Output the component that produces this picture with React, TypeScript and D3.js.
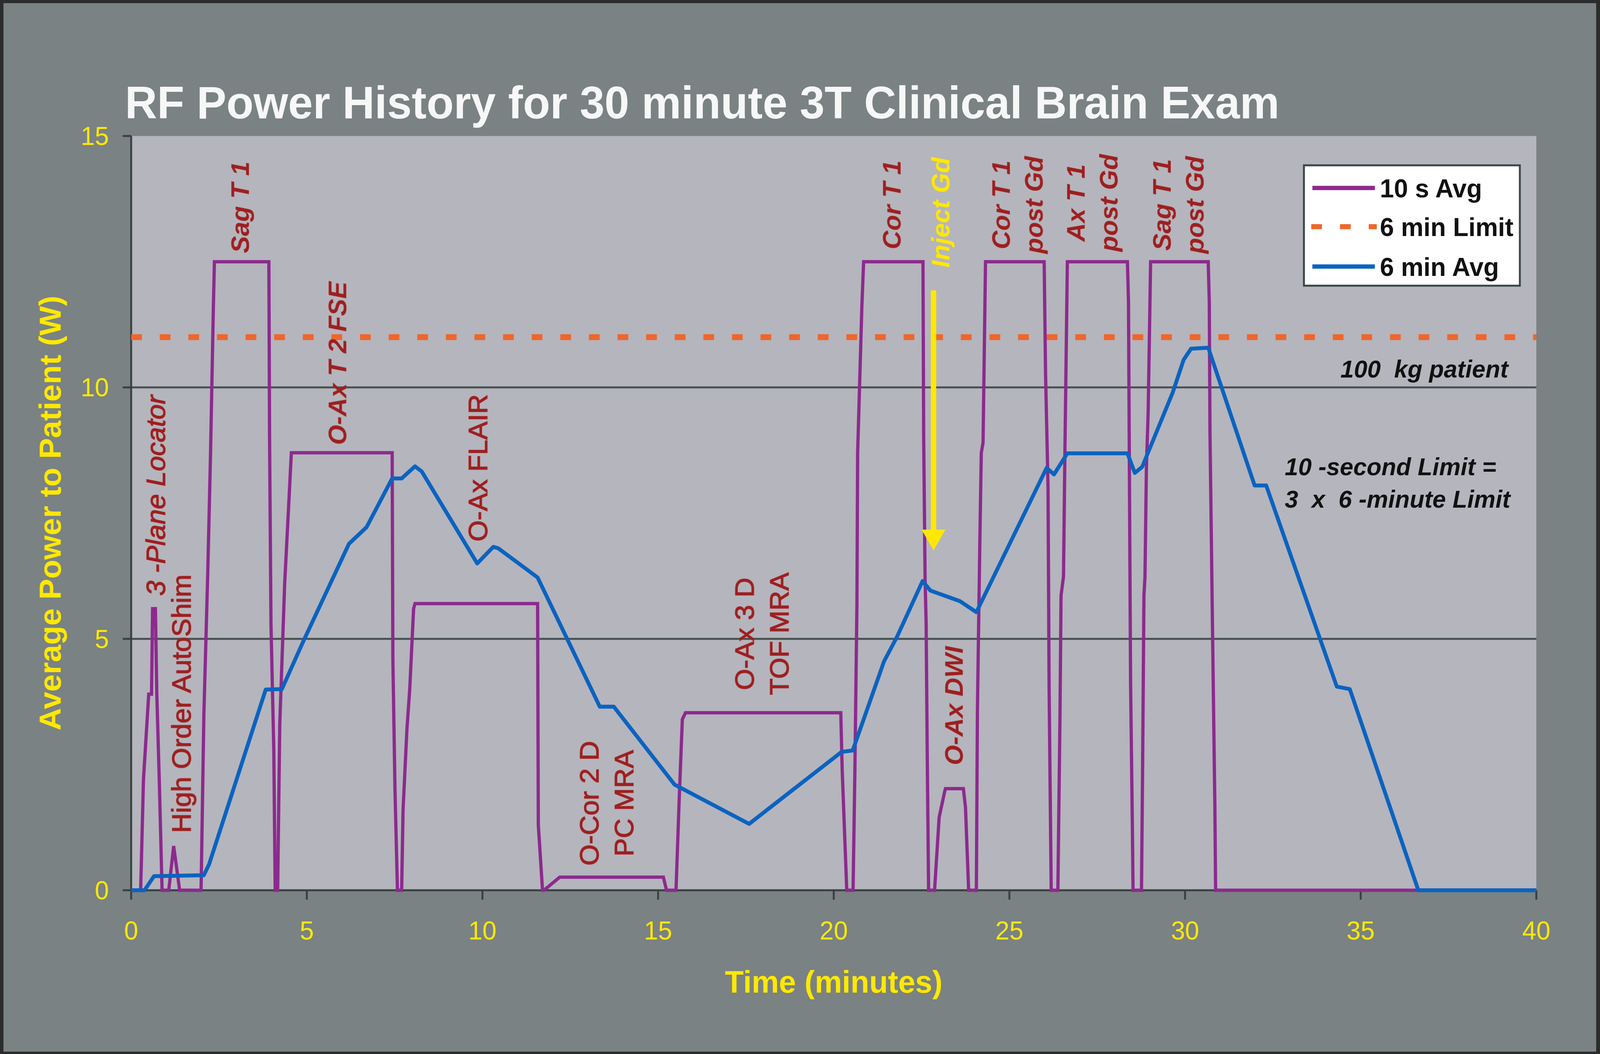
import React, { useEffect } from 'react';
import * as d3 from 'd3';

const title = 'RF Power History for 30 minute 3T Clinical Brain Exam';
const xLabel = 'Time (minutes)';
const yLabel = 'Average Power to Patient (W)';
const xTicks = [0, 5, 10, 15, 20, 25, 30, 35, 40];
const yTicks = [0, 5, 10, 15];
const gridValues = [5, 10];
const sixMinLimit = 11;
const seriesNames = ['10 s Avg', '6 min Limit', '6 min Avg'];

// 10 s average RF power (time in minutes, power in W)
const tenSecAvg: [number, number][] = [
  [0, 0], [0.27, 0], [0.35, 2.2], [0.5, 3.9], [0.58, 3.9], [0.61, 5.6], [0.69, 5.6], [0.73, 3.9], [0.8, 2.2], [0.88, 0],
  [1.07, 0], [1.21, 0.88], [1.38, 0],
  [1.99, 0], [2.07, 3.5], [2.18, 6.3], [2.26, 8.7], [2.34, 11.6], [2.37, 12.5],
  [3.92, 12.5], [3.94, 9.0], [3.98, 5.3], [4.06, 2.8], [4.1, 0],
  [4.17, 0], [4.23, 3.3], [4.37, 6.1], [4.48, 7.6], [4.56, 8.7],
  [7.43, 8.7], [7.45, 4.6], [7.51, 2.0], [7.58, 0],
  [7.7, 0], [7.74, 1.6], [7.85, 3.2], [7.93, 4.0], [8.04, 5.6], [8.08, 5.7],
  [11.57, 5.7], [11.59, 1.3], [11.71, 0], [11.75, 0], [12.2, 0.26],
  [15.15, 0.26], [15.24, 0], [15.51, 0], [15.6, 1.8], [15.69, 3.4], [15.78, 3.53],
  [20.2, 3.53], [20.24, 2.4], [20.33, 0.74], [20.37, 0], [20.55, 0], [20.6, 2.3], [20.66, 5.7], [20.68, 8.7], [20.8, 11.6], [20.85, 12.5],
  [22.54, 12.5], [22.56, 9.0], [22.6, 6.2], [22.63, 5.3], [22.66, 2.8], [22.7, 0],
  [22.87, 0], [23.0, 1.45], [23.16, 1.97], [23.18, 2.02], [23.69, 2.02], [23.75, 1.65], [23.84, 0],
  [24.06, 0], [24.09, 3.6], [24.16, 7.0], [24.2, 8.7], [24.25, 8.9], [24.32, 12.5],
  [25.99, 12.5], [26.03, 10.25], [26.1, 8.0], [26.13, 4.06], [26.19, 0],
  [26.38, 0], [26.44, 3.46], [26.47, 5.86], [26.54, 6.24], [26.58, 8.7], [26.65, 12.5],
  [28.36, 12.5], [28.39, 11.7], [28.42, 7.8], [28.45, 4.1], [28.5, 1.3], [28.52, 0],
  [28.76, 0], [28.79, 2.27], [28.83, 5.86], [28.86, 6.24], [28.9, 8.4], [28.95, 9.5], [29.02, 12.5],
  [30.66, 12.5], [30.69, 11.7], [30.71, 9.1], [30.78, 5.3], [30.85, 1.6], [30.87, 0],
  [40, 0],
];

// 6 minute average RF power
const sixMinAvg: [number, number][] = [
  [0, 0], [0.38, 0], [0.65, 0.28], [2.07, 0.3], [2.22, 0.52], [3.83, 3.99], [4.29, 4.0], [4.9, 4.95],
  [6.2, 6.89], [6.7, 7.22], [7.43, 8.19], [7.7, 8.19], [8.08, 8.43], [8.27, 8.33], [9.85, 6.5], [10.31, 6.83],
  [10.45, 6.8], [11.57, 6.22], [13.34, 3.65], [13.74, 3.65], [15.47, 2.1], [17.59, 1.32], [20.22, 2.75],
  [20.54, 2.78], [21.43, 4.55], [21.8, 5.04], [22.53, 6.15], [22.75, 5.96], [23.59, 5.75], [24.06, 5.53],
  [26.06, 8.4], [26.27, 8.27], [26.65, 8.69], [28.36, 8.69], [28.57, 8.3], [28.78, 8.42], [29.65, 9.9],
  [29.96, 10.55], [30.17, 10.77], [30.66, 10.79], [31.98, 8.05], [32.31, 8.05], [34.32, 4.05], [34.69, 4.0],
  [36.64, 0], [40, 0],
];

// sequence labels: centre position in data coordinates; bold = bold italic face, else plain face
const sequenceLabels: { lines: string[]; t: number; w: number; bold: boolean; italic: boolean }[] = [
  { lines: ['3 -Plane Locator'], t: 0.69, w: 7.85, bold: false, italic: true },
  { lines: ['High Order AutoShim'], t: 1.42, w: 3.71, bold: false, italic: false },
  { lines: ['Sag T 1'], t: 3.09, w: 13.58, bold: true, italic: true },
  { lines: ['O-Ax T 2 FSE'], t: 5.86, w: 10.48, bold: true, italic: true },
  { lines: ['O-Ax FLAIR'], t: 9.86, w: 8.4, bold: false, italic: false },
  { lines: ['O-Cor 2 D', 'PC MRA'], t: 13.52, w: 1.73, bold: false, italic: false },
  { lines: ['O-Ax 3 D', 'TOF MRA'], t: 17.94, w: 5.1, bold: false, italic: false },
  { lines: ['Cor T 1'], t: 21.64, w: 13.63, bold: true, italic: true },
  { lines: ['O-Ax DWI'], t: 23.41, w: 3.67, bold: true, italic: true },
  { lines: ['Cor T 1', 'post Gd'], t: 25.22, w: 13.63, bold: true, italic: true },
  { lines: ['Ax T 1', 'post Gd'], t: 27.35, w: 13.67, bold: true, italic: true },
  { lines: ['Sag T 1', 'post Gd'], t: 29.8, w: 13.63, bold: true, italic: true },
];
const injectLabel = { text: 'Inject Gd', t: 23.03, w: 13.48 };
const injectArrow = { t: 22.84, from: 11.93, to: 6.76 };
const patientNote = { text: '100  kg patient', t: 39.2, w: 10.2 };
const limitNote = { lines: ['10 -second Limit =', '3  x  6 -minute Limit'], t: 32.84, w: [8.25, 7.61] };

const W = 4172;
const H = 2697;
const P = { left: 342, right: 4006, top: 348, bottom: 2278 };

const C = {
  frame: '#2b2c2c',
  outer: '#7a8283',
  plot: '#b5b5bd',
  grid: '#465050',
  axis: '#384040',
  purple: '#8c2a8e',
  blue: '#0b63c0',
  orange: '#f0662a',
  red: '#9e1f1f',
  yellow: '#ffe800',
  title: '#f7f7f7',
};

const FONT = '"Liberation Sans", Arial, Helvetica, sans-serif';

export default function App() {
  useEffect(() => {
    document.body.style.margin = '0';
    document.body.style.overflow = 'hidden';
    document.documentElement.style.overflow = 'hidden';
  }, []);

  const x = d3.scaleLinear().domain([0, 40]).range([P.left, P.right]);
  const y = d3.scaleLinear().domain([0, 15]).range([P.bottom, P.top]);
  const line = d3
    .line<[number, number]>()
    .x((d) => x(d[0]))
    .y((d) => y(d[1]));

  const legend = { x: 3400, y: 423, w: 563, h: 308 };
  const legendRows = [481, 580, 682];

  const arrowX = x(injectArrow.t);
  const arrowTipY = y(injectArrow.to);

  return (
    <svg
      viewBox={`0 0 ${W} ${H}`}
      preserveAspectRatio="none"
      style={{ position: 'fixed', left: 0, top: 0, width: '100%', height: '100%', display: 'block' }}
      fontFamily={FONT}
    >
      <rect x={0} y={0} width={W} height={H} fill={C.frame} />
      <rect x={9} y={8} width={W - 19} height={H - 14} fill={C.outer} />
      <rect x={P.left} y={P.top} width={P.right - P.left} height={P.bottom - P.top} fill={C.plot} />

      {/* title */}
      <text x={326} y={303} fontSize={116} fontWeight="bold" fill={C.title}>
        {title}
      </text>

      {/* gridlines */}
      {gridValues.map((v) => (
        <line key={v} x1={P.left} x2={P.right} y1={y(v)} y2={y(v)} stroke={C.grid} strokeWidth={5} />
      ))}

      {/* axes */}
      <line x1={P.left} x2={P.left} y1={P.top} y2={P.bottom} stroke={C.axis} strokeWidth={5} />
      <line x1={P.left - 2} x2={P.right} y1={P.bottom} y2={P.bottom} stroke={C.axis} strokeWidth={5} />
      {yTicks.map((v) => (
        <g key={v}>
          <line x1={P.left - 22} x2={P.left} y1={y(v)} y2={y(v)} stroke={C.axis} strokeWidth={5} />
          <text x={284} y={y(v) + 23} fontSize={66} textAnchor="end" fill={C.yellow}>
            {v}
          </text>
        </g>
      ))}
      {xTicks.map((v) => (
        <g key={v}>
          <line x1={x(v)} x2={x(v)} y1={P.bottom} y2={P.bottom + 24} stroke={C.axis} strokeWidth={5} />
          <text x={x(v)} y={2404} fontSize={66} textAnchor="middle" fill={C.yellow}>
            {v}
          </text>
        </g>
      ))}
      <text x={(P.left + P.right) / 2} y={2540} fontSize={80} fontWeight="bold" textAnchor="middle" fill={C.yellow}>
        {xLabel}
      </text>
      <text
        transform={`translate(158, ${(P.top + P.bottom) / 2}) rotate(-90)`}
        fontSize={80}
        fontWeight="bold"
        textAnchor="middle"
        fill={C.yellow}
      >
        {yLabel}
      </text>

      {/* 6 min limit */}
      <line
        x1={P.left}
        x2={P.right}
        y1={y(sixMinLimit)}
        y2={y(sixMinLimit)}
        stroke={C.orange}
        strokeWidth={15}
        strokeDasharray="28 46.6"
      />

      {/* series */}
      <path d={line(tenSecAvg) || ''} fill="none" stroke={C.purple} strokeWidth={8.5} strokeLinejoin="miter" />
      <path d={line(sixMinAvg) || ''} fill="none" stroke={C.blue} strokeWidth={10} strokeLinejoin="round" />

      {/* sequence labels */}
      {sequenceLabels.map((a, i) => {
        const n = a.lines.length;
        const fs = a.bold ? 66 : 70;
        const lh = fs * 1.3;
        return (
          <g key={i} transform={`translate(${x(a.t)}, ${y(a.w)}) rotate(-90)`}>
            {a.lines.map((s, j) => (
              <text
                key={j}
                x={0}
                y={(j - (n - 1) / 2) * lh + fs * 0.36}
                fontSize={fs}
                fontWeight={a.bold ? 'bold' : 'normal'}
                fontStyle={a.italic ? 'italic' : 'normal'}
                textAnchor="middle"
                fill={C.red}
                stroke={a.bold ? 'none' : C.red}
                strokeWidth={a.bold ? 0 : 1.6}
              >
                {s}
              </text>
            ))}
          </g>
        );
      })}
      <g transform={`translate(${x(injectLabel.t)}, ${y(injectLabel.w)}) rotate(-90)`}>
        <text x={0} y={66 * 0.36} fontSize={66} fontWeight="bold" fontStyle="italic" textAnchor="middle" fill={C.yellow}>
          {injectLabel.text}
        </text>
      </g>

      {/* inject arrow */}
      <line x1={arrowX} x2={arrowX} y1={y(injectArrow.from)} y2={arrowTipY - 45} stroke={C.yellow} strokeWidth={14} />
      <polygon
        points={`${arrowX - 31},${arrowTipY - 53} ${arrowX + 31},${arrowTipY - 53} ${arrowX},${arrowTipY}`}
        fill={C.yellow}
      />

      {/* notes */}
      <text
        x={x(patientNote.t)}
        y={y(patientNote.w)}
        fontSize={63}
        fontWeight="bold"
        fontStyle="italic"
        textAnchor="end"
        fill="#111"
        style={{ whiteSpace: 'pre' }}
      >
        {patientNote.text}
      </text>
      {limitNote.lines.map((s, i) => (
        <text
          key={i}
          x={x(limitNote.t)}
          y={y(limitNote.w[i])}
          fontSize={63}
          fontWeight="bold"
          fontStyle="italic"
          fill="#111"
          style={{ whiteSpace: 'pre' }}
        >
          {s}
        </text>
      ))}

      {/* legend */}
      <rect x={legend.x} y={legend.y} width={legend.w} height={legend.h} fill="#ffffff" stroke="#3b4646" strokeWidth={5} />
      <line x1={3422} x2={3585} y1={legendRows[0]} y2={legendRows[0]} stroke={C.purple} strokeWidth={11} />
      <line x1={3419} x2={3590} y1={legendRows[1]} y2={legendRows[1]} stroke={C.orange} strokeWidth={13} strokeDasharray="28 47" />
      <line x1={3422} x2={3585} y1={legendRows[2]} y2={legendRows[2]} stroke={C.blue} strokeWidth={11} />
      {seriesNames.map((s, i) => (
        <text key={s} x={3598} y={legendRows[i] + 24} fontSize={66} fontWeight="bold" fill="#111">
          {s}
        </text>
      ))}
    </svg>
  );
}
